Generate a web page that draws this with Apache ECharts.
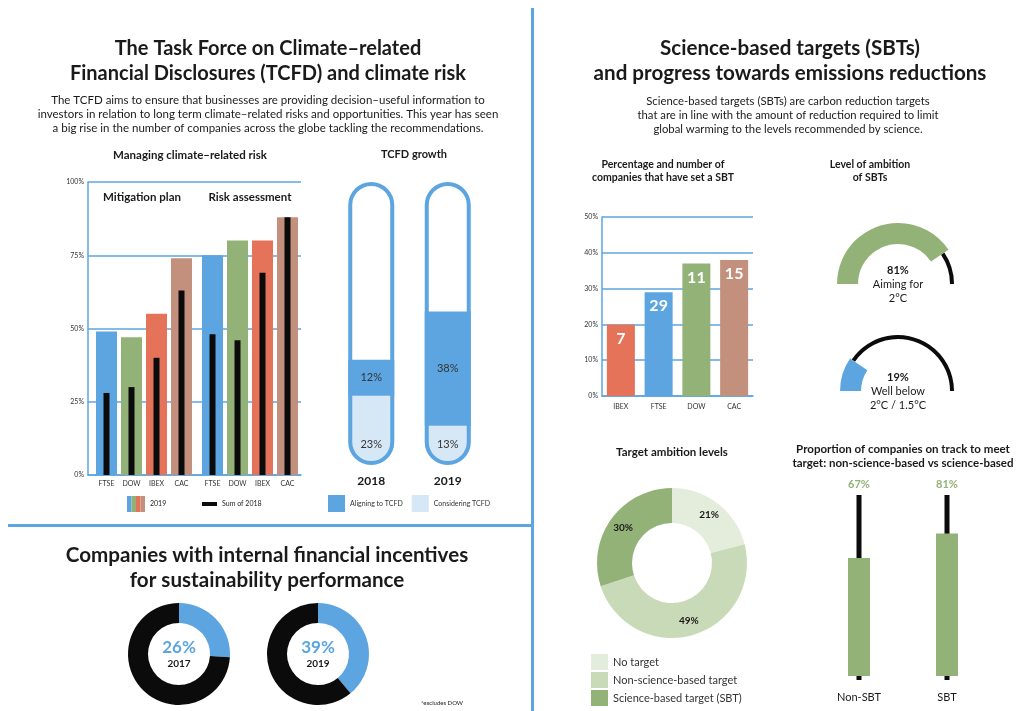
<!DOCTYPE html>
<html>
<head>
<meta charset="utf-8">
<script src="https://cdn.jsdelivr.net/npm/echarts@6/dist/echarts.min.js"></script>
<style>
html,body{margin:0;padding:0;background:#fff;}
#chart{width:1018px;height:711px;}
</style>
</head>
<body>
<div id="chart"></div>
<script>
// ---------- DATA ----------
const mgmtCategories = ['FTSE', 'DOW', 'IBEX', 'CAC'];
const mitigation2019 = [49, 47, 55, 74];
const mitigation2018 = [28, 30, 40, 63];
const risk2019 = [75, 80, 80, 88];
const risk2018 = [48, 46, 69, 88];

const tcfdYears = ['2018', '2019'];
const tcfdAligning = [12, 38];
const tcfdConsidering = [23, 13];

const incentiveYears = ['2017', '2019'];
const incentiveShare = [26, 39];

const sbtCategories = ['IBEX', 'FTSE', 'DOW', 'CAC'];
const sbtPercent = [20, 29, 37, 38];
const sbtCount = [7, 29, 11, 15];

const ambitionLabels = ['Aiming for\n2°C', 'Well below\n2°C / 1.5°C'];
const ambitionShare = [81, 19];

const targetNames = ['No target', 'Non-science-based target', 'Science-based target (SBT)'];
const targetShare = [21, 49, 30];

const trackCategories = ['Non-SBT', 'SBT'];
const trackShare = [67, 81];

// ---------- STYLE ----------
const BLUE = '#5CA5E1', GREEN = '#93B277', ORANGE = '#E4735A', BROWN = '#C3907E';
const LIGHTBLUE = '#D6E7F6', BLACK = '#0b0b0b', TXT = '#1a1a1a';
const mgmtColors = [BLUE, GREEN, ORANGE, BROWN];
const sbtColors = [ORANGE, BLUE, GREEN, BROWN];
const targetColors = ['#E4ECDB', '#C9DAB9', GREEN];
const FONT = 'Lato';
const PILL_MAX = 94;
const CLEAR = 'rgba(0,0,0,0)';

function txt(text, x, y, size, bold, align, lh) {
  return {
    type: 'text', silent: true,
    style: {
      text: text, x: x, y: y, fill: TXT,
      font: (bold ? 'bold ' : '') + size + 'px ' + FONT,
      textAlign: align || 'center', textVerticalAlign: 'middle',
      lineHeight: lh || Math.round(size * 1.3)
    }
  };
}

const chart = echarts.init(document.getElementById('chart'), null, { renderer: 'canvas' });

const hiddenCat = (gi, data) => ({
  type: 'category', gridIndex: gi, data: data, show: false
});

const option = {
  animation: false,
  textStyle: { fontFamily: FONT },
  grid: [
    { left: 88, top: 182, width: 213, height: 293 },   // 0 background managing
    { left: 94, top: 182, width: 100, height: 293 },   // 1 mitigation
    { left: 200, top: 182, width: 100, height: 293 },  // 2 risk
    { left: 333, top: 182, width: 153, height: 283 },  // 3 tcfd
    { left: 602, top: 217, width: 151, height: 179 },  // 4 sbt
    { left: 815, top: 500, width: 176, height: 176 },  // 5 track bars
    { left: 815, top: 495, width: 176, height: 185 }   // 6 track lines
  ],
  xAxis: [
    { type: 'category', gridIndex: 0, data: [''], axisLine: { show: true, lineStyle: { color: BLUE, width: 1.5 } }, axisTick: { show: false }, axisLabel: { show: false } },
    { type: 'category', gridIndex: 1, data: mgmtCategories, axisLine: { show: false }, axisTick: { show: false },
      axisLabel: { fontSize: 7, color: '#333', margin: 5 } },
    hiddenCat(1, mgmtCategories),
    { type: 'category', gridIndex: 2, data: mgmtCategories, axisLine: { show: false }, axisTick: { show: false },
      axisLabel: { fontSize: 7, color: '#333', margin: 5 } },
    hiddenCat(2, mgmtCategories),
    { type: 'category', gridIndex: 3, data: tcfdYears, axisLine: { show: false }, axisTick: { show: false },
      axisLabel: { fontSize: 12, fontWeight: 'bold', color: TXT, margin: 10 } },
    { type: 'category', gridIndex: 4, data: sbtCategories, axisLine: { show: true, lineStyle: { color: BLUE, width: 1.5 } }, axisTick: { show: false },
      axisLabel: { fontSize: 7, color: '#333', margin: 7 } },
    { type: 'category', gridIndex: 5, data: trackCategories, axisLine: { show: false }, axisTick: { show: false },
      axisLabel: { fontSize: 11, color: TXT, margin: 16 } },
    hiddenCat(6, trackCategories)
  ],
  yAxis: [
    { type: 'value', gridIndex: 0, min: 0, max: 100, interval: 25,
      axisLine: { show: true, lineStyle: { color: BLUE, width: 1.5 } },
      axisLabel: { fontSize: 7, color: '#333', formatter: '{value}%', margin: 4 },
      splitLine: { show: true, lineStyle: { color: BLUE, width: 1.5 } } },
    { type: 'value', gridIndex: 1, min: 0, max: 100, show: false, splitLine: { show: false } },
    { type: 'value', gridIndex: 2, min: 0, max: 100, show: false, splitLine: { show: false } },
    { type: 'value', gridIndex: 3, min: 0, max: PILL_MAX, show: false, splitLine: { show: false } },
    { type: 'value', gridIndex: 4, min: 0, max: 50, interval: 10,
      axisLine: { show: true, lineStyle: { color: BLUE, width: 1.5 } },
      axisLabel: { fontSize: 7, color: '#333', formatter: '{value}%', margin: 4 },
      splitLine: { show: true, lineStyle: { color: BLUE, width: 1.5 } } },
    { type: 'value', gridIndex: 5, min: 0, max: 100, show: false, splitLine: { show: false } },
    { type: 'value', gridIndex: 6, min: 0, max: 100, show: false, splitLine: { show: false } }
  ],
  series: [
    // Managing climate-related risk
    { name: '2019', type: 'bar', xAxisIndex: 1, yAxisIndex: 1, barWidth: 21, silent: true,
      data: mitigation2019.map((v, i) => ({ value: v, itemStyle: { color: mgmtColors[i] } })) },
    { name: 'Sum of 2018', type: 'bar', xAxisIndex: 2, yAxisIndex: 1, barWidth: 6, silent: true, z: 3,
      itemStyle: { color: BLACK }, data: mitigation2018 },
    { name: '2019', type: 'bar', xAxisIndex: 3, yAxisIndex: 2, barWidth: 21, silent: true,
      data: risk2019.map((v, i) => ({ value: v, itemStyle: { color: mgmtColors[i] } })) },
    { name: 'Sum of 2018', type: 'bar', xAxisIndex: 4, yAxisIndex: 2, barWidth: 6, silent: true, z: 3,
      itemStyle: { color: BLACK }, data: risk2018 },

    // TCFD growth
    { name: 'Considering TCFD', type: 'bar', xAxisIndex: 5, yAxisIndex: 3, stack: 'tcfd', barWidth: 46, barGap: '-100%', silent: true,
      itemStyle: { color: LIGHTBLUE, borderRadius: [0, 0, 23, 23] },
      label: { show: true, position: 'insideBottom', distance: 15, formatter: '{c}%', fontSize: 11, color: '#333' },
      data: tcfdConsidering },
    { name: 'Aligning to TCFD', type: 'bar', xAxisIndex: 5, yAxisIndex: 3, stack: 'tcfd', barWidth: 46, barGap: '-100%', silent: true,
      itemStyle: { color: BLUE },
      label: { show: true, position: 'inside', formatter: '{c}%', fontSize: 11, color: '#333' },
      data: tcfdAligning },
    { name: 'outline', type: 'bar', xAxisIndex: 5, yAxisIndex: 3, barWidth: 46, barGap: '-100%', silent: true, z: 4,
      itemStyle: { color: CLEAR, borderColor: BLUE, borderWidth: 4, borderRadius: 23 },
      data: tcfdYears.map(() => PILL_MAX) },

    // SBT bar chart
    { name: 'sbt', type: 'bar', xAxisIndex: 6, yAxisIndex: 4, barWidth: 28, silent: true,
      data: sbtPercent.map((v, i) => ({ value: v, itemStyle: { color: sbtColors[i] } })),
      label: { show: true, position: 'insideTop', distance: 6, fontSize: 16, fontWeight: 'bold', color: '#fff',
        formatter: p => String(sbtCount[p.dataIndex]) } },

    // Track chart
    { name: 'trackMax', type: 'bar', xAxisIndex: 8, yAxisIndex: 6, barWidth: 5, silent: true,
      itemStyle: { color: BLACK }, data: trackCategories.map(() => 100),
      label: { show: true, position: 'top', distance: 5, fontSize: 11, fontWeight: 'bold', color: GREEN,
        formatter: p => trackShare[p.dataIndex] + '%' } },
    { name: 'track', type: 'bar', xAxisIndex: 7, yAxisIndex: 5, barWidth: 22, silent: true, z: 3,
      itemStyle: { color: GREEN }, data: trackShare },

    // Target ambition donut
    { name: 'target', type: 'pie', center: [672, 563], radius: [40, 75], startAngle: 90, clockwise: true, silent: true,
      label: { show: true, position: 'inside', formatter: '{c}%', fontSize: 10, fontWeight: 'bold', color: TXT },
      labelLine: { show: false },
      data: targetNames.map((n, i) => ({ name: n, value: targetShare[i], itemStyle: { color: targetColors[i] } })) },

    // Incentive donuts
    ...incentiveYears.map((yr, k) => ({
      name: 'inc' + yr, type: 'pie', center: [179 + k * 139, 654], radius: [31, 51], startAngle: 90, silent: true,
      labelLine: { show: false },
      data: [
        { name: 'inc-yes-' + yr, value: incentiveShare[k], itemStyle: { color: BLUE },
          label: { show: true, position: 'center', formatter: '{a|' + incentiveShare[k] + '%}\n{b|' + yr + '}',
            rich: { a: { fontSize: 17, fontWeight: 'bold', color: BLUE, lineHeight: 19, fontFamily: FONT },
                    b: { fontSize: 10, fontWeight: 'bold', color: TXT, lineHeight: 13, fontFamily: FONT } } } },
        { name: 'inc-no-' + yr, value: 100 - incentiveShare[k], itemStyle: { color: BLACK }, label: { show: false } }
      ]
    })),

    // Ambition gauges (half donuts)
    ...ambitionShare.map((v, k) => ({
      name: 'amb' + k, type: 'pie', center: [898, 284 + k * 107], radius: k === 0 ? [40, 61] : [37, 58],
      startAngle: 180, clockwise: true, silent: true, labelLine: { show: false }, z: 3,
      data: [
        { name: 'amb-a' + k, value: v, itemStyle: { color: k === 0 ? GREEN : BLUE },
          label: { show: true, position: 'center', formatter: '{a|' + v + '%}\n{b|' + ambitionLabels[k] + '}',
            rich: { a: { fontSize: 11, fontWeight: 'bold', color: TXT, lineHeight: 14, fontFamily: FONT },
                    b: { fontSize: 11, color: TXT, lineHeight: 14, fontFamily: FONT } } } },
        { name: 'amb-b' + k, value: 100 - v, itemStyle: { color: CLEAR }, label: { show: false } },
        { name: 'amb-c' + k, value: 100, itemStyle: { color: CLEAR }, label: { show: false } }
      ]
    })),
    ...ambitionShare.map((v, k) => ({
      name: 'ambline' + k, type: 'pie', center: [898, 284 + k * 107], radius: [52, 56],
      startAngle: 180, clockwise: true, silent: true, label: { show: false }, labelLine: { show: false }, z: 1,
      data: [
        { name: 'al-a' + k, value: v, itemStyle: { color: CLEAR } },
        { name: 'al-b' + k, value: 100 - v, itemStyle: { color: BLACK } },
        { name: 'al-c' + k, value: 100, itemStyle: { color: CLEAR } }
      ]
    }))
  ],
  legend: [
    { data: ['Aligning to TCFD', 'Considering TCFD'], left: 328, top: 495, orient: 'horizontal', padding: 0,
      itemWidth: 17, itemHeight: 17, itemGap: 9, icon: 'rect', selectedMode: false,
      textStyle: { fontSize: 7, color: '#333', fontFamily: FONT } },
    { data: targetNames, left: 591, top: 654, orient: 'vertical', padding: 0, height: 60,
      itemWidth: 17, itemHeight: 16, itemGap: 2, icon: 'rect', selectedMode: false,
      textStyle: { fontSize: 11, color: '#333', fontFamily: FONT } }
  ],
  graphic: [
    // dividers
    { type: 'rect', silent: true, shape: { x: 531, y: 8, width: 3, height: 703 }, style: { fill: BLUE } },
    { type: 'rect', silent: true, shape: { x: 8, y: 524, width: 525, height: 3 }, style: { fill: BLUE } },

    txt('The Task Force on Climate–related\nFinancial Disclosures (TCFD) and climate risk', 268, 61, 20, true, 'center', 25),
    txt('The TCFD aims to ensure that businesses are providing decision–useful information to\ninvestors in relation to long term climate–related risks and opportunities. This year has seen\na big rise in the number of companies across the globe tackling the recommendations.', 268, 114, 11.5, false, 'center', 14),
    txt('Managing climate–related risk', 190, 155, 11.5, true),
    txt('Mitigation plan', 142, 197, 11.5, true),
    txt('Risk assessment', 250, 197, 11.5, true),
    txt('TCFD growth', 414, 154, 11, true),

    // managing legend
    { type: 'rect', silent: true, shape: { x: 127, y: 496, width: 4.5, height: 16 }, style: { fill: BLUE } },
    { type: 'rect', silent: true, shape: { x: 131.5, y: 496, width: 4.5, height: 16 }, style: { fill: GREEN } },
    { type: 'rect', silent: true, shape: { x: 136, y: 496, width: 4.5, height: 16 }, style: { fill: ORANGE } },
    { type: 'rect', silent: true, shape: { x: 140.5, y: 496, width: 4.5, height: 16 }, style: { fill: BROWN } },
    txt('2019', 150, 504, 7, false, 'left'),
    { type: 'rect', silent: true, shape: { x: 202, y: 502, width: 15, height: 4 }, style: { fill: BLACK } },
    txt('Sum of 2018', 222, 504, 7, false, 'left'),

    txt('Companies with internal financial incentives\nfor sustainability performance', 267, 568, 20.6, true, 'center', 25),
    txt('*excludes DOW', 442, 703, 6, false),

    txt('Science-based targets (SBTs)\nand progress towards emissions reductions', 790, 61, 20.6, true, 'center', 25),
    txt('Science-based targets (SBTs) are carbon reduction targets\nthat are in line with the amount of reduction required to limit\nglobal warming to the levels recommended by science.', 788, 115, 11.3, false, 'center', 14),
    txt('Percentage and number of\ncompanies that have set a SBT', 663, 171, 10.5, true, 'center', 13),
    txt('Level of ambition\nof SBTs', 870, 171, 10.5, true, 'center', 13),
    txt('Target ambition levels', 672, 452, 11.5, true),
    txt('Proportion of companies on track to meet\ntarget: non-science-based vs science-based', 903, 456, 11.5, true, 'center', 14)
  ]
};

chart.setOption(option);
</script>
</body>
</html>
